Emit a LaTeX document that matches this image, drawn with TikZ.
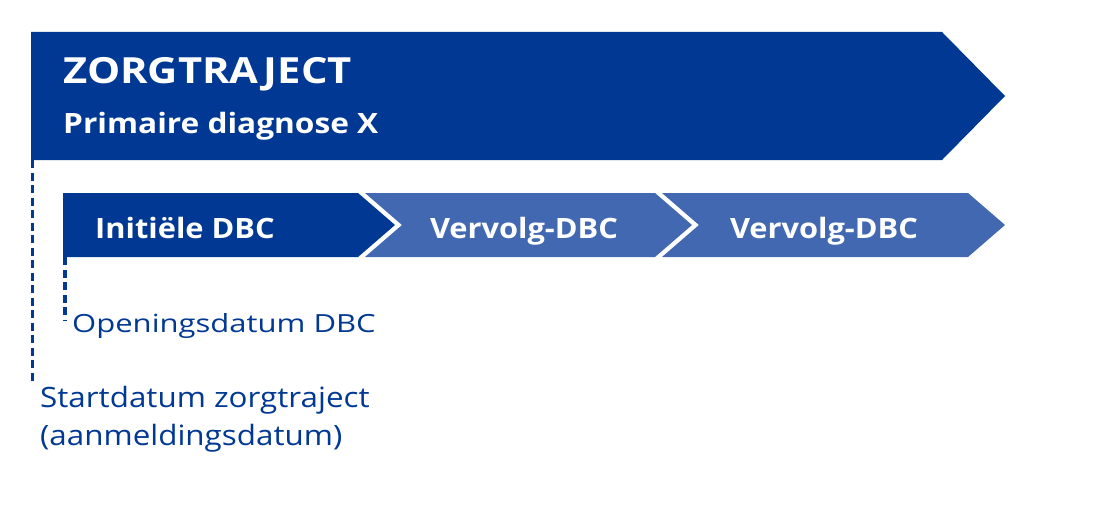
\documentclass[tikz,border=0pt]{standalone}
\usepackage{fontspec}
\setmainfont{Open Sans}
\newfontfamily\titlef[FakeStretch=1.16]{Open Sans}
\newfontfamily\primf[FakeStretch=1.13]{Open Sans}
\newfontfamily\chevf[FakeStretch=1.1]{Open Sans}
\newfontfamily\openf[FakeStretch=1.24]{Open Sans}
\newfontfamily\startf[FakeStretch=1.12]{Open Sans}
\definecolor{dkblue}{RGB}{0,56,147}
\definecolor{ltblue}{RGB}{66,104,178}
\begin{document}
\begin{tikzpicture}[x=1pt,y=-1pt,
  wlbl/.style={inner sep=0pt,anchor=base west,text=white},
  chlbl/.style={wlbl,anchor=base,font=\chevf\fontsize{28}{32}\selectfont\bfseries},
  blbl/.style={inner sep=0pt,anchor=base west,text=dkblue},
  dashln/.style={draw=dkblue,line width=3.5pt,dash pattern=on 8pt off 4.5pt}]
\useasboundingbox (0,0) rectangle (1103,519);
% big arrow
\fill[dkblue] (31,32) -- (942,32) -- (1005,96) -- (942,160) -- (31,160) -- cycle;
\coordinate (bigbl) at (32.5,160);
% chevrons
\fill[dkblue] (63,193) -- (358,193) -- (395,225) -- (358,257) -- (63,257) -- cycle;
\fill[ltblue] (365,193) -- (655,193) -- (692,225) -- (655,257) -- (365,257) -- (402,225) -- cycle;
\fill[ltblue] (662,193) -- (968,193) -- (1005,225) -- (968,257) -- (662,257) -- (699,225) -- cycle;
\coordinate (chbl) at (65,257);
% texts
\node[wlbl,font=\titlef\fontsize{36}{40}\selectfont\bfseries] (title) at (63,83) {ZORGTRAJECT};
\node[wlbl,font=\primf\fontsize{28}{32}\selectfont\bfseries] (prim) at (63,133) {Primaire diagnose X};
\node[chlbl] (c1) at (185,238) {Initiële DBC};
\node[chlbl] (c2) at (524,238) {Vervolg-DBC};
\node[chlbl] (c3) at (824,238) {Vervolg-DBC};
\node[blbl,font=\openf\fontsize{25}{28}\selectfont] (open) at (72,332) {Openingsdatum DBC};
\node[blbl,font=\startf\fontsize{28}{38}\selectfont] (start) at (40,407) {Startdatum zorgtraject};
\node[blbl,font=\startf\fontsize{28}{38}\selectfont] (start2) at (40,445) {(aanmeldingsdatum)};
% dashed markers
\coordinate (openend) at (65,321);
\coordinate (startend) at (32.5,383);
\draw[dashln] (bigbl) -- (startend);
\draw[dashln] (chbl) -- (openend);
\end{tikzpicture}
\end{document}
